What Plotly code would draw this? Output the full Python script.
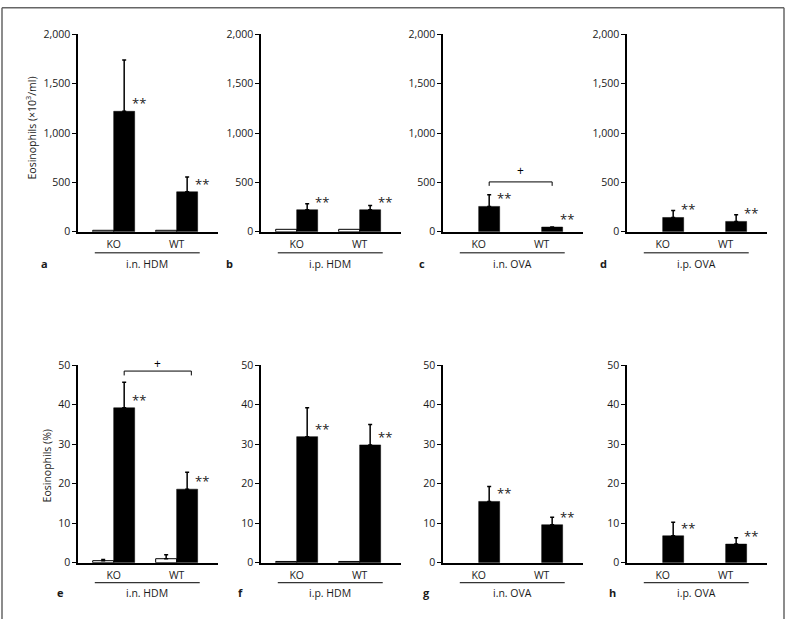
import plotly.graph_objects as go

# ---------------- data ----------------
panel_letters = ["a", "b", "c", "d", "e", "f", "g", "h"]
routes = ["i.n. HDM", "i.p. HDM", "i.n. OVA", "i.p. OVA"]
genotypes = ["KO", "WT"]

# Top row: eosinophil counts (x10^3/ml); open = control, black = challenged
count_open = [[15, 15], [25, 25], [None, None], [None, None]]
count_open_upper = [[None, None], [None, None], [None, None], [None, None]]
count_black = [[1220, 405], [223, 223], [257, 48], [145, 105]]
count_black_upper = [[1740, 555], [284, 267], [376, None], [216, 173]]

# Bottom row: eosinophils (%)
pct_open = [[0.5, 1.0], [0.3, 0.3], [None, None], [None, None]]
pct_open_upper = [[0.8, 2.0], [None, None], [None, None], [None, None]]
pct_black = [[39.2, 18.6], [31.9, 29.8], [15.5, 9.6], [6.8, 4.7]]
pct_black_upper = [[45.7, 22.9], [39.2, 35.0], [19.3, 11.5], [10.2, 6.3]]

significance = "**"

count_ticks = [0, 500, 1000, 1500, 2000]
pct_ticks = [0, 10, 20, 30, 40, 50]

# brackets (+): (panel index, from group, to group, level, "+" level)
brackets = [(2, 0, 1, 505, 619), (4, 0, 1, 48.5, 50.4)]

# ---------------- layout helpers ----------------
OFF_X, OFF_Y = 0, 8           # where the plot div lands on the page (body margin removed)
SY = 626 / 642                # vertical squeeze of the captured page
W = 787
H = 626
FONT = "Open Sans"
TXT = "#1a1a1a"


def fx(px):
    return (px - OFF_X) / W


def fy(py):
    return 1 - (py / SY - OFF_Y) / H


ax_left_px = [78, 261, 443, 627]
ax_w_px = 140
rows_px = [(35, 232), (365, 562)]
X_RANGE = [0, 6.67]
group_center = [1.7, 4.7]
BW = 1.0

fig = go.Figure()
layout = dict(
    width=W, height=H, margin=dict(l=0, r=0, t=0, b=0, pad=0),
    paper_bgcolor="white", plot_bgcolor="white",
    showlegend=False, barmode="overlay",
    font=dict(family=FONT, size=10, color=TXT),
)
annotations = []
shapes = []
domains = []


def err_arr(vals, upper):
    return [(u - v) if (u is not None and v is not None) else 0 for v, u in zip(vals, upper)]


for i in range(8):
    row = i // 4
    col = i % 4
    n = "" if i == 0 else str(i + 1)
    xa, ya = "x" + n, "y" + n
    if row == 0:
        ov, ou, bv, bu = count_open[col], count_open_upper[col], count_black[col], count_black_upper[col]
        yr, ticks = [0, 2000], count_ticks
    else:
        ov, ou, bv, bu = pct_open[col], pct_open_upper[col], pct_black[col], pct_black_upper[col]
        yr, ticks = [0, 50], pct_ticks

    xo = [c - BW / 2 for c in group_center]
    xb = [c + BW / 2 for c in group_center]

    fig.add_trace(go.Bar(
        x=xo, y=ov, width=BW, xaxis=xa, yaxis=ya,
        marker=dict(color="white", line=dict(color="black", width=1)),
        error_y=dict(type="data", symmetric=False, array=err_arr(ov, ou),
                     arrayminus=[0, 0], color="black", thickness=1.5, width=2,
                     visible=any(u is not None for u in ou)),
    ))
    fig.add_trace(go.Bar(
        x=xb, y=bv, width=BW, xaxis=xa, yaxis=ya,
        marker=dict(color="black", line=dict(color="black", width=0.5)),
        error_y=dict(type="data", symmetric=False, array=err_arr(bv, bu),
                     arrayminus=[0, 0], color="black", thickness=1.5, width=2),
    ))

    x0 = fx(ax_left_px[col])
    x1 = fx(ax_left_px[col] + ax_w_px)
    top_px, bot_px = rows_px[row]
    y0 = fy(bot_px)
    y1 = fy(top_px)
    domains.append((y0, y1, yr))

    layout["xaxis" + n] = dict(
        domain=[x0, x1], range=X_RANGE, anchor=ya,
        showline=True, linecolor="black", linewidth=1.5,
        tickvals=group_center, ticktext=genotypes,
        ticks="outside", ticklen=2, tickcolor="rgba(0,0,0,0)",
        tickfont=dict(size=10.5, family=FONT, color=TXT),
        showgrid=False, zeroline=False, fixedrange=True,
    )
    layout["yaxis" + n] = dict(
        domain=[y0, y1], range=yr, anchor=xa,
        showline=True, linecolor="black", linewidth=1.5,
        tickvals=ticks, tickformat=",d",
        ticks="outside", ticklen=4, tickwidth=1, tickcolor="black",
        tickfont=dict(size=10.5, family=FONT, color=TXT),
        showgrid=False, zeroline=False, fixedrange=True,
    )

    # significance marks
    for k in range(2):
        if bv[k] is None:
            continue
        annotations.append(dict(
            x=xb[k] + BW / 2, y=bv[k], xref=xa, yref=ya,
            text=significance, showarrow=False, xanchor="center", yanchor="bottom",
            xshift=4, yshift=-3, font=dict(size=13, family=FONT, color=TXT),
        ))

    # underline + route label
    ul_y_px = 253 if row == 0 else 582
    lab_y_px = 264 if row == 0 else 592
    shapes.append(dict(type="line", xref=xa, yref="paper", x0=0.8, x1=5.8,
                       y0=fy(ul_y_px), y1=fy(ul_y_px),
                       line=dict(color="black", width=1)))
    annotations.append(dict(
        x=3.3, y=fy(lab_y_px), xref=xa, yref="paper", text=routes[col],
        showarrow=False, xanchor="center", yanchor="middle",
        font=dict(size=10.5, family=FONT, color=TXT),
    ))

# panel letters
letter_x_px = [44, 229, 422, 603, 60, 240, 426, 612]
for i, L in enumerate(panel_letters):
    row = i // 4
    lab_y_px = 264 if row == 0 else 592
    annotations.append(dict(
        x=fx(letter_x_px[i]), y=fy(lab_y_px), xref="paper", yref="paper",
        text="<b>" + L + "</b>", showarrow=False, xanchor="center", yanchor="middle",
        font=dict(size=11, family=FONT, color=TXT),
    ))

# brackets
for (pi, ga, gb, lvl, plus_y) in brackets:
    n = "" if pi == 0 else str(pi + 1)
    xa, ya = "x" + n, "y" + n
    xa_pos = group_center[ga] + BW / 2
    xb_pos = group_center[gb] + BW / 2 + (0.2 if pi == 4 else 0)
    drop = 40 if pi < 4 else 1.1
    fig.add_trace(go.Scatter(
        x=[xa_pos, xa_pos, xb_pos, xb_pos], y=[lvl - drop, lvl, lvl, lvl - drop],
        mode="lines", line=dict(color="black", width=1), xaxis=xa, yaxis=ya,
        cliponaxis=False, hoverinfo="skip",
    ))
    # "+" placed in paper space via the axis' own mapping (can sit above range)
    y0, y1, yr = domains[pi]
    py = y0 + (plus_y - yr[0]) / (yr[1] - yr[0]) * (y1 - y0)
    annotations.append(dict(
        x=(xa_pos + xb_pos) / 2, y=py, xref=xa, yref="paper", text="+",
        showarrow=False, xanchor="center", yanchor="middle",
        font=dict(size=12, family=FONT, color="black"),
    ))

# y-axis titles
annotations.append(dict(
    x=fx(31), y=fy(129), xref="paper", yref="paper",
    text="Eosinophils (×10<sup>3</sup>/ml)", textangle=-90, showarrow=False,
    xanchor="center", yanchor="middle", font=dict(size=10.5, family=FONT, color=TXT),
))
annotations.append(dict(
    x=fx(47), y=fy(466), xref="paper", yref="paper",
    text="Eosinophils (%)", textangle=-90, showarrow=False,
    xanchor="center", yanchor="middle", font=dict(size=10.5, family=FONT, color=TXT),
))

# outer frame (open at the bottom, as in the reference crop)
frame_l, frame_t, frame_r = fx(2), 1 - 0.75 / H, fx(784)
for (xa0, ya0, xa1, ya1) in [(frame_l, frame_t, frame_l, 0), (frame_l, frame_t, frame_r, frame_t),
                             (frame_r, frame_t, frame_r, 0)]:
    shapes.append(dict(type="line", xref="paper", yref="paper",
                       x0=xa0, y0=ya0, x1=xa1, y1=ya1,
                       line=dict(color="#666666", width=1.5)))

layout["annotations"] = annotations
layout["shapes"] = shapes
fig.update_layout(**layout)
fig.write_html(
    "out.html",
    config={"displayModeBar": False},
    post_script="document.body.style.margin='0';document.body.style.padding='0';",
)
